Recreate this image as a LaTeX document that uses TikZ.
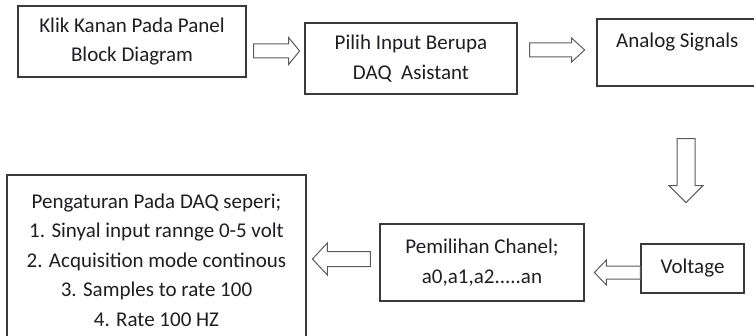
\documentclass[tikz,border=0pt]{standalone}
\usepackage{fontspec}
\setmainfont{Carlito}
\usetikzlibrary{calc}
\definecolor{inkcol}{HTML}{1E1E24}
\definecolor{framecol}{HTML}{3A3A3A}
\definecolor{arrowcol}{HTML}{5C5C5C}
\tikzset{
  stepbox/.style={draw=framecol, line width=1.2pt, fill=white, inner sep=0pt,
    align=center, text=inkcol, font=\fontsize{21}{29.5}\selectfont},
  plaintext/.style={inner sep=0pt, text=inkcol, font=\fontsize{21}{29.5}\selectfont},
  fatline/.style={draw=arrowcol, line width=1pt, line join=miter, fill=white},
  % hollow block arrow: length / shaft half width / head half width / head length
  pics/fatarrow/.style args={#1/#2/#3/#4}{code={
    \path[fatline] (0,-#2) -- ({#1-#4},-#2) -- ({#1-#4},-#3) -- (#1,0)
      -- ({#1-#4},#3) -- ({#1-#4},#2) -- (0,#2) -- cycle;}}
}
\begin{document}
\begin{tikzpicture}[x=1pt,y=1pt]
\useasboundingbox (0,0) rectangle (754,335);

% process boxes
\node[stepbox, minimum width=228, minimum height=71] (klik) at (132,293.5)
  {Klik Kanan Pada Panel\\Block Diagram};
\node[stepbox, minimum width=212, minimum height=71] (daq) at (411,276.5)
  {Pilih Input Berupa\\DAQ\ \ Asistant};
\node[stepbox, minimum width=178, minimum height=67] (analog) at (686,282.5) {};
\node[plaintext, anchor=base west] (analogtext) at (616,287) {Analog Signals};
\node[stepbox, minimum width=103, minimum height=49] (volt) at (692.5,66.5) {Voltage};
\node[stepbox, minimum width=204, minimum height=77] (chanel) at (482,72.5)
  {Pemilihan Chanel;\\a0,a1,a2.....an};
\node[stepbox, minimum width=299, minimum height=170] (setup) at (156.5,75)
  {Pengaturan Pada DAQ seperi;\\
   1. Sinyal input rannge 0-5 volt\\
   2. Acquisition mode continous\\
   3. Samples to rate 100\\
   4. Rate 100 HZ\hspace{30pt}};

% block arrows between the steps
\pic at ($(klik.east)+(7,-9.5)$) {fatarrow=46/7/13.5/11};
\pic at ($(daq.east)+(12,8.5)$) {fatarrow=55/7/12/13};
\pic[rotate=-90] at ($(analog.south)+(0,-52)$) {fatarrow=64/9/17/17};
\pic[rotate=180] at ($(volt.west)+(0,-4)$) {fatarrow=46/6.5/12.5/12};
\pic[rotate=180] at ($(chanel.west)+(-9,3.5)$) {fatarrow=58/7.5/16/15};
\end{tikzpicture}
\end{document}
